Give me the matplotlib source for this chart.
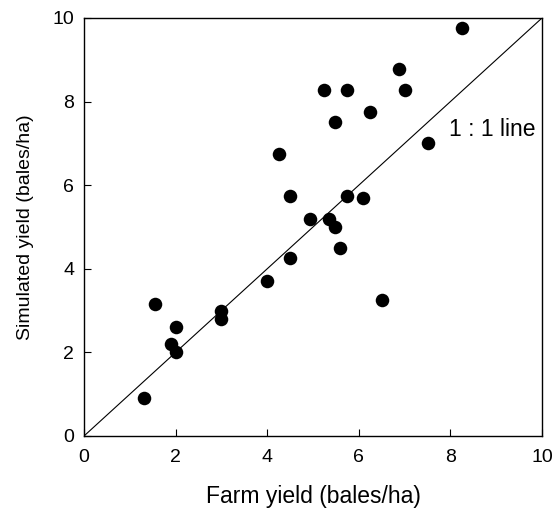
import matplotlib
matplotlib.use("Agg")
import matplotlib.pyplot as plt

plt.rcParams['font.family'] = ['Liberation Sans', 'DejaVu Sans']

farm_yield = [1.3, 1.55, 1.9, 2.0, 2.0, 3.0, 3.0, 4.0, 4.25, 4.5, 4.5, 4.93, 5.24,
              5.35, 5.49, 5.49, 5.6, 5.74, 5.74, 6.1, 6.24, 6.5, 6.87, 7.0, 7.5, 8.25]
sim_yield = [0.9, 3.15, 2.2, 2.0, 2.6, 3.0, 2.8, 3.7, 6.75, 5.75, 4.25, 5.18, 8.27,
             5.19, 5.0, 7.5, 4.5, 8.27, 5.75, 5.7, 7.75, 3.25, 8.77, 8.27, 7.0, 9.77]
ticks = [0, 2, 4, 6, 8, 10]
line_xy = [0, 10]

fig = plt.figure(figsize=(5.57, 5.14), dpi=100)
ax = fig.add_axes([84/557, 1-436/514, (542-84)/557, (436-18)/514])
ax.plot(line_xy, line_xy, color='black', lw=0.8)
ax.scatter(farm_yield, sim_yield, s=95, color='black', linewidths=0, zorder=3)
ax.text(8.92, 7.33, '1 : 1 line', fontsize=16.5, ha='center', va='center')
ax.set_xlim(0, 10)
ax.set_ylim(0, 10)
ax.set_xticks(ticks)
ax.set_yticks(ticks)
ax.tick_params(axis='both', direction='in', labelsize=14, length=5, width=0.8)
ax.tick_params(axis='x', pad=9)
ax.tick_params(axis='y', pad=7)
ax.set_xlabel('Farm yield (bales/ha)', fontsize=16.5, labelpad=14)
ax.set_ylabel('Simulated yield (bales/ha)', fontsize=14, labelpad=13)
for s in ax.spines.values():
    s.set_linewidth(1.0)
fig.savefig('out.png', dpi=100)
